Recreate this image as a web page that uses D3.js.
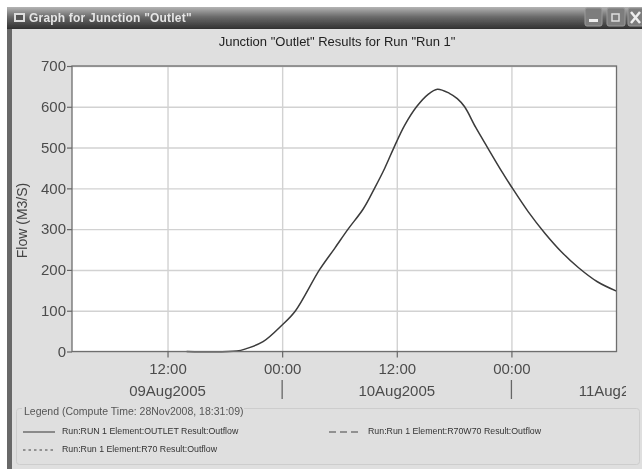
<!DOCTYPE html>
<html>
<head>
<meta charset="utf-8">
<script src="https://cdn.jsdelivr.net/npm/d3@7"></script>
<style>
    html, body { margin: 0; padding: 0; background: #fff; }
    svg { display: block; }
    text { font-family: "Liberation Sans", Arial, sans-serif; }
</style>
</head>
<body>
<div id="chart"></div>
<script>
// 从图上读出来的流量过程线
const flowTimes = [
    '09Aug2005 14:00', '09Aug2005 19:15', '09Aug2005 20:15', '09Aug2005 22:00',
    '10Aug2005 00:00', '10Aug2005 01:24', '10Aug2005 03:54', '10Aug2005 05:30',
    '10Aug2005 06:54', '10Aug2005 08:30', '10Aug2005 09:40', '10Aug2005 10:45',
    '10Aug2005 11:42', '10Aug2005 12:50', '10Aug2005 14:04', '10Aug2005 15:15',
    '10Aug2005 16:15', '10Aug2005 17:30', '10Aug2005 18:20', '10Aug2005 19:06',
    '10Aug2005 20:15', '10Aug2005 21:30', '10Aug2005 23:00', '11Aug2005 00:00',
    '11Aug2005 01:45', '11Aug2005 03:30', '11Aug2005 05:15', '11Aug2005 07:00',
    '11Aug2005 09:00', '11Aug2005 11:00'
];
const flowValues = [
    0, 1, 7, 24,
    65, 100, 200, 253,
    300, 350, 400, 450,
    500, 555, 600, 630,
    643, 633, 620, 600,
    550, 500, 441, 404,
    343, 290, 244, 206,
    171, 148
];
const yTicks = [0, 100, 200, 300, 400, 500, 600, 700];
const hourTicks = ['09Aug2005 12:00', '10Aug2005 00:00', '10Aug2005 12:00', '11Aug2005 00:00'];
const dayBreaks = ['10Aug2005 00:00', '11Aug2005 00:00'];
const dayLabels = ['09Aug2005', '10Aug2005', '11Aug2005'];
const dayLabelTimes = ['09Aug2005 12:00', '10Aug2005 12:00', '11Aug2005 11:00'];
const timeRange = ['09Aug2005 02:00', '11Aug2005 11:00'];
const legendNames = [
    'Run:RUN 1 Element:OUTLET Result:Outflow',
    'Run:Run 1 Element:R70W70 Result:Outflow',
    'Run:Run 1 Element:R70 Result:Outflow'
];

const width = 642;
const height = 469;
const plot = {left: 72, right: 616.5, top: 66, bottom: 351.5};
const parseTime = d3.timeParse('%d%b%Y %H:%M');

const svg = d3.select('#chart').append('svg')
    .attr('width', width)
    .attr('height', height);

const defs = svg.append('defs');
const titleGrad = defs.append('linearGradient')
    .attr('id', 'titleGrad')
    .attr('x1', 0).attr('y1', 0).attr('x2', 0).attr('y2', 1);
titleGrad.append('stop').attr('offset', '0%').attr('stop-color', '#b4b4b4');
titleGrad.append('stop').attr('offset', '45%').attr('stop-color', '#6a6a6a');
titleGrad.append('stop').attr('offset', '100%').attr('stop-color', '#303030');

defs.append('clipPath').attr('id', 'dayClip')
    .append('rect').attr('x', 0).attr('y', 370).attr('width', 626).attr('height', 40);

// 截图本身有点糊，整体加一点模糊
defs.append('filter').attr('id', 'soft')
    .append('feGaussianBlur').attr('stdDeviation', 0.5);

const root = svg.append('g').attr('filter', 'url(#soft)');

drawWindow();
const x = d3.scaleTime().domain(timeRange.map(parseTime)).range([plot.left, plot.right]);
const y = d3.scaleLinear().domain([0, 700]).range([plot.bottom, plot.top]);
drawPlot();
drawLegend();

/*
 * @desc 窗口外框和标题栏
 */
function drawWindow() {
    root.append('rect').attr('width', width).attr('height', height).attr('fill', '#fff');
    root.append('rect').attr('x', 7).attr('y', 7).attr('width', width - 7).attr('height', height - 7)
        .attr('fill', '#dfdfdf');
    root.append('rect').attr('x', 7).attr('y', 7).attr('width', 5).attr('height', height - 7)
        .attr('fill', '#686868');
    root.append('rect').attr('x', 7).attr('y', 7).attr('width', width - 7).attr('height', 22)
        .attr('fill', 'url(#titleGrad)');

    // 标题栏图标
    root.append('rect').attr('x', 14).attr('y', 13).attr('width', 11).attr('height', 9)
        .attr('fill', '#ddd');
    root.append('rect').attr('x', 16).attr('y', 15).attr('width', 7).attr('height', 5)
        .attr('fill', '#555');

    root.append('text')
        .attr('x', 29).attr('y', 22)
        .attr('font-size', '12px')
        .attr('font-weight', 'bold')
        .attr('letter-spacing', '0.2px')
        .attr('fill', '#e6e6e6')
        .text('Graph for Junction "Outlet"');

    // 右上角三个按钮
    [[585, 17], [607, 18], [628, 16]].forEach((b) => {
        root.append('rect').attr('x', b[0]).attr('y', 8).attr('width', b[1]).attr('height', 18)
            .attr('rx', 2).attr('fill', '#7d7d7d').attr('stroke', '#9a9a9a');
    });
    root.append('rect').attr('x', 589).attr('y', 19).attr('width', 9).attr('height', 3).attr('fill', '#eee');
    root.append('rect').attr('x', 612).attr('y', 14).attr('width', 7).attr('height', 7)
        .attr('fill', 'none').attr('stroke', '#ddd').attr('stroke-width', 1.5);
    root.append('path').attr('d', 'M631,12L640,23M640,12L631,23')
        .attr('stroke', '#eee').attr('stroke-width', 2.5);

    root.append('text')
        .attr('x', 337).attr('y', 46)
        .attr('text-anchor', 'middle')
        .attr('font-size', '13px')
        .attr('fill', '#222')
        .text('Junction "Outlet" Results for Run "Run 1"');
}

/*
 * @desc 绘图区：网格、坐标轴、曲线
 */
function drawPlot() {
    const w = plot.right - plot.left;
    const h = plot.bottom - plot.top;
    const hourDates = hourTicks.map(parseTime);

    root.append('rect')
        .attr('x', plot.left).attr('y', plot.top).attr('width', w).attr('height', h)
        .attr('fill', '#fff');

    // 网格线
    const gridY = root.append('g')
        .attr('transform', `translate(${plot.left},0)`)
        .call(d3.axisLeft(y).tickValues(yTicks).tickSize(-w).tickFormat(''));
    const gridX = root.append('g')
        .attr('transform', `translate(0,${plot.bottom})`)
        .call(d3.axisBottom(x).tickValues(hourDates).tickSize(-h).tickFormat(''));
    [gridY, gridX].forEach((g) => {
        g.select('.domain').remove();
        g.selectAll('line').attr('stroke', '#d2d2d2').attr('stroke-width', 1.4);
    });

    // 曲线
    const line = d3.line()
        .x((d) => x(d.t))
        .y((d) => y(d.v))
        .curve(d3.curveCatmullRom.alpha(0.5));
    const series = flowTimes.map((t, i) => ({t: parseTime(t), v: flowValues[i]}));
    root.append('path')
        .datum(series)
        .attr('d', line)
        .attr('fill', 'none')
        .attr('stroke', '#3a3a3a')
        .attr('stroke-width', 1.5);

    // 外框
    root.append('rect')
        .attr('x', plot.left).attr('y', plot.top).attr('width', w).attr('height', h)
        .attr('fill', 'none')
        .attr('stroke', '#6e6e6e')
        .attr('stroke-width', 1.3);

    // 坐标轴
    const axisY = root.append('g')
        .attr('transform', `translate(${plot.left},0)`)
        .call(d3.axisLeft(y).tickValues(yTicks).tickSize(5).tickPadding(1));
    const axisX = root.append('g')
        .attr('transform', `translate(0,${plot.bottom})`)
        .call(d3.axisBottom(x).tickValues(hourDates).tickSize(6).tickPadding(6)
            .tickFormat(d3.timeFormat('%H:%M')));
    [axisY, axisX].forEach((g) => {
        g.select('.domain').remove();
        g.selectAll('line').attr('stroke', '#666').attr('stroke-width', 1.2);
        g.selectAll('text')
            .attr('font-family', '"Liberation Sans", Arial, sans-serif')
            .attr('font-size', '15px')
            .attr('fill', '#4c4c4c');
    });

    // 日期分隔和日期文字
    root.selectAll('.day-break')
        .data(dayBreaks.map(parseTime))
        .enter()
        .append('line')
        .attr('class', 'day-break')
        .attr('x1', (d) => x(d)).attr('x2', (d) => x(d))
        .attr('y1', 380).attr('y2', 399)
        .attr('stroke', '#666')
        .attr('stroke-width', 1.3);

    root.append('g')
        .attr('clip-path', 'url(#dayClip)')
        .selectAll('text')
        .data(dayLabels)
        .enter()
        .append('text')
        .attr('x', (d, i) => x(parseTime(dayLabelTimes[i])))
        .attr('y', 396)
        .attr('text-anchor', 'middle')
        .attr('font-size', '15px')
        .attr('fill', '#4c4c4c')
        .text((d) => d);

    root.append('text')
        .attr('transform', `translate(27,${(183 + 258) / 2}) rotate(-90)`)
        .attr('text-anchor', 'middle')
        .attr('font-size', '14px')
        .attr('fill', '#444')
        .text('Flow (M3/S)');
}

/*
 * @desc 图例
 */
function drawLegend() {
    root.append('rect')
        .attr('x', 16.5).attr('y', 408.5).attr('width', 623).attr('height', 56)
        .attr('rx', 3)
        .attr('fill', 'none')
        .attr('stroke', '#cdcdcd');

    root.append('rect')
        .attr('x', 22).attr('y', 404).attr('width', 222).attr('height', 12)
        .attr('fill', '#dfdfdf');
    root.append('text')
        .attr('x', 24).attr('y', 415)
        .attr('font-size', '10.5px')
        .attr('fill', '#555')
        .text('Legend (Compute Time: 28Nov2008, 18:31:09)');

    const items = [
        {x: 23, y: 431, dash: null},
        {x: 329, y: 431, dash: '7,4'},
        {x: 23, y: 449, dash: '2.5,3'}
    ];
    items.forEach((item, i) => {
        root.append('line')
            .attr('x1', item.x).attr('x2', item.x + 32)
            .attr('y1', item.y + 1).attr('y2', item.y + 1)
            .attr('stroke', '#444')
            .attr('stroke-width', 1.1)
            .attr('stroke-dasharray', item.dash);
        root.append('text')
            .attr('x', item.x + 39).attr('y', item.y + 3)
            .attr('font-size', '8.8px')
            .attr('fill', '#333')
            .text(legendNames[i]);
    });
}
</script>
</body>
</html>
